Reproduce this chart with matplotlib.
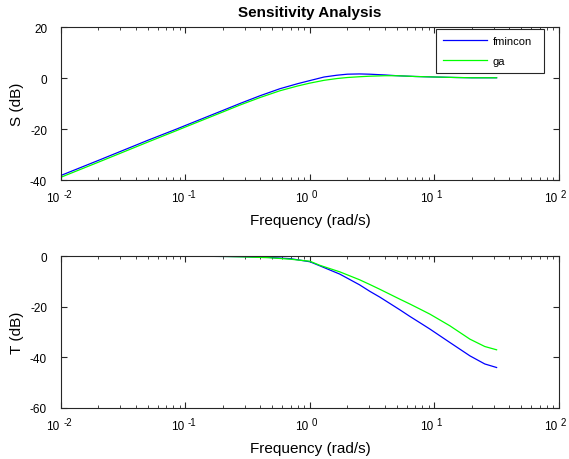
import numpy as np
import matplotlib
matplotlib.use('Agg')
import matplotlib.pyplot as plt
import matplotlib.transforms as mtransforms
from matplotlib.ticker import LogLocator, NullFormatter

plt.rcParams['font.family'] = ['Liberation Sans', 'DejaVu Sans']
plt.rcParams['axes.unicode_minus'] = False

# frequencies (rad/s) and curves
freq_S = [0.01, 0.02, 0.05, 0.085, 0.1, 0.2, 0.274, 0.4, 0.574, 0.8, 1.0, 1.3,
          1.65, 2.0, 2.5, 3.0, 4.0, 5.0, 7.0, 10.0, 15.0, 20.0, 31.6]
S_fmincon = [-38.2, -32.3, -24.4, -20.0, -18.6, -12.7, -10.0, -6.9, -4.2, -2.2,
             -1.0, 0.4, 1.1, 1.5, 1.6, 1.5, 1.2, 0.9, 0.6, 0.4, 0.2, 0.1, 0.1]
S_ga = [-38.9, -33.0, -25.1, -20.6, -19.2, -13.3, -10.6, -7.6, -5.0, -3.1,
        -2.0, -0.9, -0.2, 0.2, 0.5, 0.7, 0.9, 0.9, 0.6, 0.4, 0.2, 0.1, 0.1]

freq_T = [0.01, 0.05, 0.1, 0.2, 0.3, 0.47, 0.7, 1.0, 1.2, 1.74, 2.5, 3.03,
          3.65, 5.28, 6.35, 7.65, 9.2, 13.3, 19.3, 25.4, 31.6]
T_fmincon = [0.0, 0.0, 0.0, -0.1, -0.2, -0.5, -1.0, -2.2, -3.8, -7.1, -11.3,
             -13.9, -16.2, -21.2, -23.8, -26.3, -28.8, -34.1, -39.4, -42.6, -44.0]
T_ga = [0.0, 0.0, 0.0, -0.1, -0.3, -0.6, -1.2, -2.0, -3.6, -6.2, -9.3,
        -11.2, -13.1, -17.0, -18.9, -20.9, -22.9, -27.5, -32.8, -35.7, -37.0]

decades = [-2, -1, 0, 1, 2]
labels = ['fmincon', 'ga']
colors = ['#0000ff', '#00ff00']


def style(fig, ax, ylim, yticks):
    ax.set_xscale('log')
    ax.set_xlim(1e-2, 1e2)
    ax.set_ylim(*ylim)
    ax.set_yticks(yticks)
    ax.set_xticks([10.0 ** d for d in decades])
    ax.xaxis.set_minor_locator(LogLocator(base=10, subs=np.arange(2, 10), numticks=20))
    ax.xaxis.set_major_formatter(NullFormatter())
    ax.xaxis.set_minor_formatter(NullFormatter())
    ax.tick_params(which='both', direction='in', top=True, right=True,
                   colors='#262626', labelcolor='black', labelsize=8.5)
    ax.tick_params(which='major', length=4, width=0.8)
    ax.tick_params(which='minor', length=2.5, width=0.6)
    ax.tick_params(axis='y', pad=10)
    for s in ax.spines.values():
        s.set_color('#262626')
        s.set_linewidth(0.8)
    # MATLAB style "10 ^-2" tick labels
    trans = mtransforms.blended_transform_factory(ax.transData, ax.transAxes)
    base_t = mtransforms.offset_copy(trans, fig=fig, x=-1, y=-8.5, units='points')
    exp_t = mtransforms.offset_copy(trans, fig=fig, x=1.5, y=-6.5, units='points')
    for d in decades:
        ax.text(10.0 ** d, 0, '10', transform=base_t, ha='right', va='top',
                fontsize=8.5)
        ax.text(10.0 ** d, 0, str(d), transform=exp_t, ha='left', va='top',
                fontsize=7)
    ax.set_xlabel('Frequency (rad/s)', fontsize=11, labelpad=20.5)


fig = plt.figure(figsize=(5.69, 4.60), dpi=100)
ax1 = fig.add_axes([0.1072, 0.6065, 0.875, 0.3326])
ax2 = fig.add_axes([0.1072, 0.1109, 0.875, 0.3300])

ax1.semilogx(freq_S, S_fmincon, color=colors[0], lw=0.9, label=labels[0])
ax1.semilogx(freq_S, S_ga, color=colors[1], lw=0.9, label=labels[1])
style(fig, ax1, (-40, 20), [-40, -20, 0, 20])
ax1.set_ylabel('S (dB)', fontsize=11)
ax1.set_title('Sensitivity Analysis', fontsize=11, fontweight='bold', pad=8)
leg = ax1.legend(loc='upper left', bbox_to_anchor=(0.753, 0.0, 0.217, 0.987),
                 mode='expand', borderaxespad=0, fontsize=8,
                 handlelength=4.0, handletextpad=0.5, fancybox=False, framealpha=1,
                 edgecolor='#262626', borderpad=0.6, labelspacing=0.95)
leg.get_frame().set_linewidth(0.8)

ax2.semilogx(freq_T, T_fmincon, color=colors[0], lw=0.9)
ax2.semilogx(freq_T, T_ga, color=colors[1], lw=0.9)
style(fig, ax2, (-60, 0), [-60, -40, -20, 0])
ax2.set_ylabel('T (dB)', fontsize=11)

fig.savefig('out.png', dpi=100)
